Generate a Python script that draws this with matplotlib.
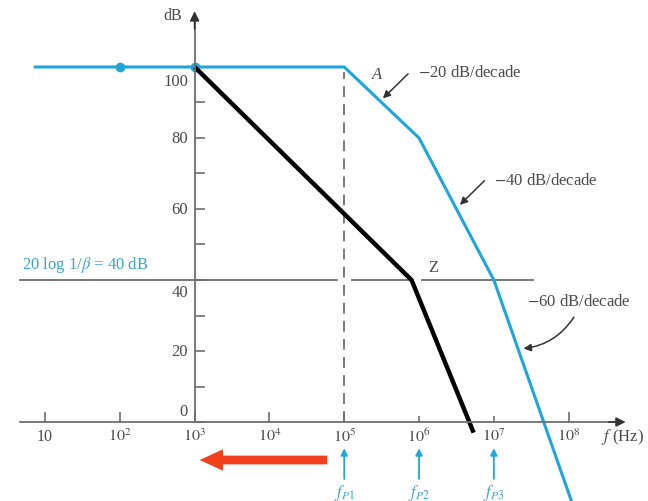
import numpy as np
import matplotlib.pyplot as plt

plt.rcParams['font.family'] = ['Liberation Serif', 'DejaVu Serif']
plt.rcParams['mathtext.fontset'] = 'stix'

# open-loop gain asymptotes (Hz, dB)
amp_f = [10**0.87, 1e5, 1e6, 1e7, 10**8.1]
amp_db = [100, 100, 80, 40, -26]
# compensated response drawn over it
comp_f = [1e3, 10**5.9, 10**6.73]
comp_db = [100, 40, -3]
dots_f = [1e2, 1e3]
dots_db = [100, 100]

closed_loop_db = 40
pole_f = [1e5, 1e6, 1e7]
pole_labels = ['$f_{P1}$', '$f_{P2}$', '$f_{P3}$']

xticks = [1e1, 1e2, 1e3, 1e4, 1e5, 1e6, 1e7, 1e8]
xtick_labels = ['10', '$10^2$', '$10^3$', '$10^4$', '$10^5$', '$10^6$', '$10^7$', '$10^8$']
yticks = [0, 20, 40, 60, 80, 100]
yminor = [10, 30, 50, 70, 90]

blue = '#1ea6dc'
tblue = '#3aa5c6'
gray = '#6e6e6e'
tgray = '#4a4a4a'

fig = plt.figure(figsize=(6.48, 5.02), dpi=100)
ax = fig.add_axes([0, 0, 1, 1])
ax.set_xscale('log')
ax.set_xlim(10**0.398, 10**9.061)
ax.set_ylim(-22.25, 119.15)

# axes crossing at (10^3 Hz, 0 dB)
for s in ['top', 'right']:
    ax.spines[s].set_visible(False)
ax.spines['left'].set_position(('data', 1e3))
ax.spines['bottom'].set_position(('data', 0))
ax.spines['left'].set_bounds(0, 113)
ax.spines['bottom'].set_bounds(10**0.67, 10**8.6)
for s in ['left', 'bottom']:
    ax.spines[s].set_color(gray)
    ax.spines[s].set_linewidth(1.3)
ax.annotate('', xy=(1e3, 116.5), xytext=(1e3, 110),
            arrowprops=dict(arrowstyle='-|>', color='#333333', lw=1.2, mutation_scale=14))
ax.annotate('', xy=(10**8.8, 0), xytext=(10**8.5, 0),
            arrowprops=dict(arrowstyle='-|>', color='#333333', lw=1.2, mutation_scale=14))

ax.xaxis.set_minor_locator(plt.NullLocator())
ax.set_xticks(xticks)
ax.set_xticklabels(xtick_labels)
ax.tick_params(axis='x', direction='in', length=7, width=1.2, color=gray,
               labelsize=11.5, labelcolor=tgray, pad=4)
for t, f in zip(ax.xaxis.get_major_ticks(), xticks):
    if f in pole_f[1:]:
        t.tick1line.set_color(blue)
        t.tick1line.set_markersize(4)

ax.set_yticks(yticks)
ax.set_yticks(yminor, minor=True)
ax.set_yticklabels([])
ax.tick_params(axis='y', which='both', direction='in', length=7, width=1.2, color=gray)
nudge = {100: -4, 40: -3.5, 0: 3}
for v in yticks:
    ax.text(10**2.91, v + nudge.get(v, 0), str(v), ha='right', va='center',
            fontsize=12, color=tgray)

# 40 dB closed-loop line, broken where labels sit
gaps = [(10**0.67, 10**4.9), (10**5.1, 10**5.92), (10**6.04, 10**7.52)]
for a, b in gaps:
    ax.plot([a, b], [closed_loop_db] * 2, color=gray, lw=1.3)
ax.plot([1e5, 1e5], [0, 98.5], color=gray, lw=1.3, ls=(0, (6, 4)))

ax.plot(amp_f, amp_db, color=blue, lw=2.2, clip_on=False)
ax.plot(dots_f, dots_db, 'o', color=blue, ms=6)
ax.plot(comp_f, comp_db, color='black', lw=3.2, solid_capstyle='butt')

# annotations
ax.text(10**5.37, 98, 'A', fontsize=12, style='italic', color=tgray, va='center')
ax.text(10**6.12, 43.8, 'Z', fontsize=12, color=tgray, va='center')
slopes = [('$-$20 dB/decade', (10**5.99, 98.6), (10**5.88, 98.6), (10**5.49, 90.6), 0),
          ('$-$40 dB/decade', (10**7.0, 68.3), (10**6.9, 68.5), (10**6.52, 60.6), 0),
          ('$-$60 dB/decade', (10**7.44, 34), (10**8.09, 30.2), (10**7.36, 20.6), -0.25)]
for txt, pos, tail, head, rad in slopes:
    ax.text(pos[0], pos[1], txt, fontsize=12, color=tgray, va='center')
    ax.annotate('', xy=head, xytext=tail,
                arrowprops=dict(arrowstyle='-|>', color='#333333', lw=1.1,
                                mutation_scale=11, connectionstyle='arc3,rad=%s' % rad))

ax.text(10**0.69, 44.6, r'20 log 1/$\beta$ = 40 dB', fontsize=12, color=tblue, va='center')
ax.text(10**2.71, 114.6, 'dB', fontsize=11.5, color=tgray, ha='center', va='center')
ax.text(10**8.43, -3.9, '$f$ (Hz)', fontsize=12, color=tgray, va='center')

for f, lab in zip(pole_f, pole_labels):
    ax.annotate('', xy=(f, -6.6), xytext=(f, -16.8),
                arrowprops=dict(arrowstyle='-|>', color=blue, lw=1.3, mutation_scale=10))
    ax.text(f, -19.8, lab, fontsize=12, color=tblue, ha='center', va='center')

# red pointer back toward 10^3
ax.annotate('', xy=(10**3.03, -10.7), xytext=(10**4.81, -10.7),
            arrowprops=dict(arrowstyle='simple,head_width=1.1,head_length=1.2,tail_width=0.45',
                            color='#f2401c', lw=0, mutation_scale=14))

fig.savefig('out.png', dpi=100)
